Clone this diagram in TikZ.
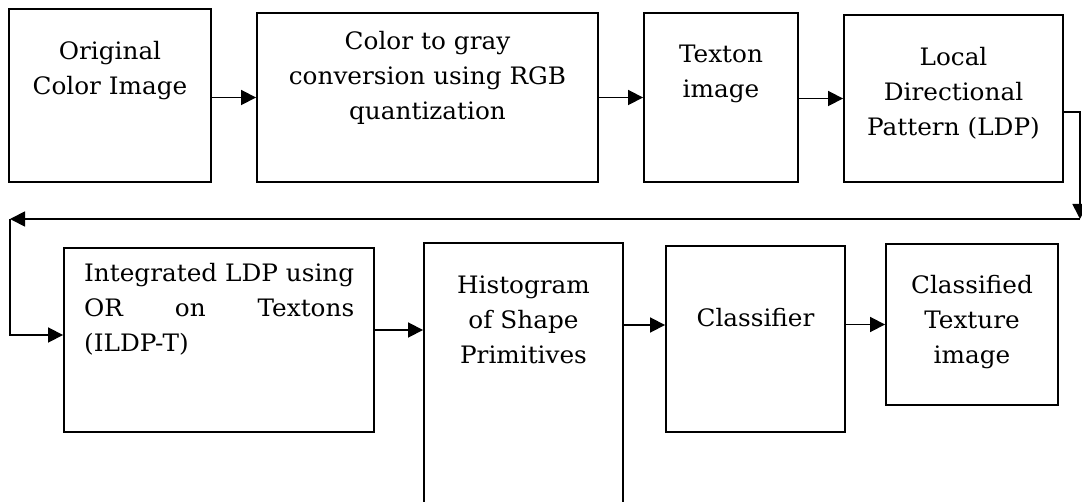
\documentclass[tikz,border=0pt]{standalone}
\usepackage{fontspec}
\setmainfont{DejaVu Serif}[FakeStretch=1.03]
\usepackage{tikz}
\usetikzlibrary{positioning,calc,arrows.meta}

\begin{document}
\begin{tikzpicture}[x=1pt,y=-1pt,
    box/.style={draw,line width=1.9pt,inner sep=0pt},
    txt/.style={align=center,text width=300pt,inner sep=0pt,font=\fontsize{24}{35}\selectfont},
    arr/.style={-{Triangle[length=15pt,width=15pt]},line width=1.8pt}]
    \useasboundingbox (0,0) rectangle (1082,502);

    % first row
    \node[box,minimum width=202pt,minimum height=173pt] (b1) at (110,95.5) {};
    \node[box,minimum width=341pt,minimum height=169pt] (b2) at (427.5,97.5) {};
    \node[box,minimum width=154pt,minimum height=169pt] (b3) at (721,97.5) {};
    \node[box,minimum width=219pt,minimum height=167pt] (b4) at (953.5,98.5) {};

    \node[txt,anchor=base] (t1) at (110,60) {Original\\Color Image};
    \node[txt,anchor=base] (t2) at (427.5,50) {Color to gray\\conversion using RGB\\quantization};
    \node[txt,anchor=base] (t3) at (721,63) {Texton\\image};
    \node[txt,anchor=base] (t4) at (953.5,66) {Local\\Directional\\Pattern (LDP)};

    \draw[arr] (b1.east |- b2.west) -- (b2.west);
    \draw[arr] (b2.east |- b3.west) -- (b3.west);
    \draw[arr] (b3.east |- b4.west) -- (b4.west);

    % second row
    \node[box,minimum width=310pt,minimum height=184pt] (b5) at (219,340) {};
    \node[box,minimum width=199pt,minimum height=269pt] (b6) at (523.5,377.5) {};
    \node[box,minimum width=179pt,minimum height=186pt] (b7) at (755.5,339) {};
    \node[box,minimum width=172pt,minimum height=161pt] (b8) at (972,324.5) {};

    \node[txt,align=left,text width=270pt,anchor=base west] (t5) at (84,282)
        {Integrated\hfill LDP\hfill using\\OR\hfill on\hfill Textons\\(ILDP-T)};
    \node[txt,anchor=base] (t6) at (523.5,294) {Histogram\\of Shape\\Primitives};
    \node[txt,anchor=base] (t7) at (755.5,327) {Classifier};
    \node[txt,anchor=base] (t8) at (972,294) {Classified\\Texture\\image};

    % return line
    \coordinate (c1) at (1080,219);
    \coordinate (c2) at (10,219);
    \draw[arr] ([yshift=-13.5pt]b4.east) -| (c1);
    \draw[arr] (c1) -- (c2);
    \draw[arr] (c2) |- ([yshift=5pt]b5.west);

    \draw[arr] ([yshift=10pt]b5.east) -- ([yshift=10pt]b5.east -| b6.west);
    \draw[arr] ([yshift=14pt]b7.west -| b6.east) -- ([yshift=14pt]b7.west);
    \draw[arr] (b7.east |- b8.west) -- (b8.west);
\end{tikzpicture}
\end{document}
